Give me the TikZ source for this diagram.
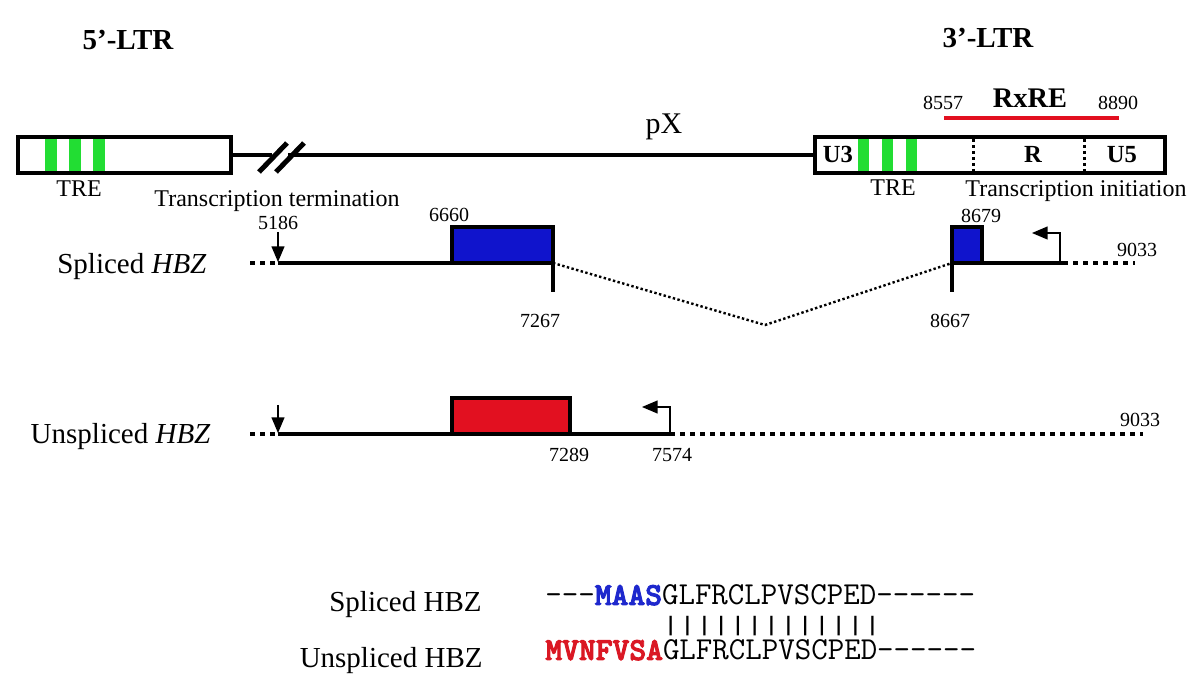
\documentclass[tikz,border=0pt]{standalone}
\usepackage{fontspec}
\setmainfont{Liberation Serif}
\newfontfamily\seqbold{lmmonolt10-bold.otf}[FakeBold=3]
\newfontfamily\barfont{Liberation Mono}
\usetikzlibrary{arrows}

\definecolor{tregreen}{RGB}{34,221,51}
\definecolor{exonblue}{RGB}{16,20,204}
\definecolor{exonred}{RGB}{226,16,32}
\definecolor{aablue}{RGB}{30,40,205}
\definecolor{aared}{RGB}{218,24,36}

\begin{document}
\begin{tikzpicture}[x = 0.5pt, y = -0.5pt,
  gene/.style = {line width = 2pt},
  genedash/.style = {line width = 2pt, dash pattern = on 2.5pt off 2.5pt},
  splice/.style = {line width = 1.2pt, dash pattern = on 1.2pt off 1.2pt},
  num/.style = {anchor = base, font = \fontsize{10}{12}\selectfont},
  lab/.style = {anchor = base, font = \fontsize{12}{14}\selectfont},
  hbzlabel/.style = {anchor = base east, inner sep = 0pt, font = \fontsize{14.5}{17}\selectfont},
  seq/.style = {anchor = base west, inner sep = 0pt, font = \fontsize{16}{18}\ttfamily}]
\useasboundingbox (0,0) rectangle (1200,688);

% LTRs and pX
\node[anchor = base, font = \fontsize{14.5}{17}\bfseries] (ltr5) at (128,50) {5’-LTR};
\node[anchor = base, font = \fontsize{14.5}{17}\bfseries] (ltr3) at (988,48) {3’-LTR};
\foreach \gx in {45,69,93} \fill[tregreen] (\gx,137) rectangle ++(12,36);
\draw[gene] (18,137) rectangle (231,173);
\draw[gene] (231,155) -- (272,155);
\draw[gene] (288,155) -- (815,155);
\draw[line width = 2.5pt] (259,172) -- (287,143);
\draw[line width = 2.5pt] (276,172) -- (304,143);
\node[anchor = base, font = \fontsize{15}{17}\selectfont] (px) at (664,134) {pX};
\foreach \gx in {858,882,906} \fill[tregreen] (\gx,137) rectangle ++(11,36);
\draw[gene] (815,137) rectangle (1165,173);
\draw[line width = 1.5pt, dash pattern = on 1.5pt off 1.5pt] (973,139) -- (973,171);
\draw[line width = 1.5pt, dash pattern = on 1.5pt off 1.5pt] (1084,139) -- (1084,171);
\node[anchor = base, font = \fontsize{12.3}{14}\bfseries] (u3) at (838,163) {U3};
\node[anchor = base, font = \fontsize{12.3}{14}\bfseries] (r) at (1033,163) {R};
\node[anchor = base, font = \fontsize{12.3}{14}\bfseries] (u5) at (1122,163) {U5};
\draw[line width = 2pt, exonred] (944,118) -- (1119,118);
\node[anchor = base, font = \fontsize{14.2}{17}\bfseries] (rxre) at (1030,108) {RxRE};
\node[num] (n8557) at (943,110) {8557};
\node[num] (n8890) at (1118,110) {8890};
\node[lab] (tre5) at (79,197) {TRE};
\node[lab] (tre3) at (893,196) {TRE};
\node[lab] (term) at (277,207) {Transcription termination};
\node[lab] (init) at (1076,197) {Transcription initiation};

% spliced HBZ
\node[hbzlabel] (spl) at (207,274) {Spliced \textit{HBZ}};
\draw[genedash] (250,263) -- (278,263);
\draw[gene] (278,263) -- (553,263);
\draw[gene, fill = exonblue] (452,227) rectangle (553,263);
\draw[gene] (553,263) -- (553,292);
\draw[splice] (553,263) -- (765,325) -- (952,263);
\draw[gene, fill = exonblue] (952,227) rectangle (982,263);
\draw[gene] (952,263) -- (952,292);
\draw[gene] (952,263) -- (1063,263);
\draw[genedash] (1063,263) -- (1135,263);
\draw[->, >=triangle 45, line width = 0.8pt] (278,232) -- (278,262);
\draw[->, >=triangle 45, line width = 0.8pt] (1060,262) -- (1060,233) -- (1032,233);
\node[num] (n5186) at (278,230) {5186};
\node[num] (n6660) at (449,222) {6660};
\node[num] (n7267) at (540,328) {7267};
\node[num] (n8679) at (981,223) {8679};
\node[num] (n8667) at (950,328) {8667};
\node[num] (n9033a) at (1137,257) {9033};

% unspliced HBZ
\node[hbzlabel] (uns) at (211,444) {Unspliced \textit{HBZ}};
\draw[genedash] (250,434) -- (278,434);
\draw[gene] (278,434) -- (670,434);
\draw[genedash] (670,434) -- (1143,434);
\draw[gene, fill = exonred] (452,398) rectangle (570,434);
\draw[->, >=triangle 45, line width = 0.8pt] (278,405) -- (278,433);
\draw[->, >=triangle 45, line width = 0.8pt] (670,433) -- (670,407) -- (642,407);
\node[num] (n7289) at (569,462) {7289};
\node[num] (n7574) at (672,462) {7574};
\node[num] (n9033b) at (1140,427) {9033};

% protein alignment
\node[hbzlabel] (splp) at (482,612) {Spliced HBZ};
\node[hbzlabel] (unsp) at (483,668) {Unspliced HBZ};
\node[seq] (seqs) at (545,605) {-{}-{}-\textcolor{aablue}{\seqbold MAAS}GLFRCLPVSCPED-{}-{}-{}-{}-{}-};
\node[seq, font = \fontsize{14}{16}\barfont] (bars) at (662,632) {\scalebox{1}[0.75]{|||||||||||||}};
\node[seq] (sequ) at (545,660) {\textcolor{aared}{\seqbold MVNFVSA}GLFRCLPVSCPED-{}-{}-{}-{}-{}-};
\end{tikzpicture}
\end{document}
